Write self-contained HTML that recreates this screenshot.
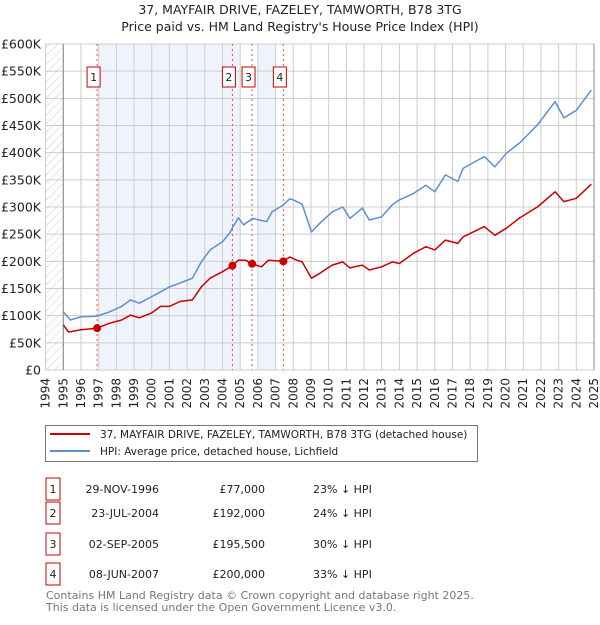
<!DOCTYPE html>
<html><head><meta charset="utf-8"><style>
body{margin:0;background:#fff;font-family:"Liberation Sans","DejaVu Sans",sans-serif;}
svg text{font-family:"DejaVu Sans","Liberation Sans",sans-serif;}
</style></head><body>
<svg id="c" width="600" height="620" xmlns="http://www.w3.org/2000/svg">
<defs><pattern id="hatch" width="6" height="6" patternUnits="userSpaceOnUse" patternTransform="rotate(45)"><line x1="0" y1="0" x2="0" y2="6" stroke="#ccc" stroke-width="1"/></pattern></defs>
<text x="300" y="14" text-anchor="middle" font-size="12.5" fill="#222">37, MAYFAIR DRIVE, FAZELEY, TAMWORTH, B78 3TG</text>
<text x="300" y="31" text-anchor="middle" font-size="12.5" fill="#222">Price paid vs. HM Land Registry's House Price Index (HPI)</text>
<g id="plot"></g>
<g>
<rect x="45.5" y="425.5" width="432" height="36" fill="#fff" stroke="#777"/>
<line x1="50" y1="434" x2="90" y2="434" stroke="#cc0000" stroke-width="2"/>
<text x="100" y="438" font-size="10.5" fill="#222">37, MAYFAIR DRIVE, FAZELEY, TAMWORTH, B78 3TG (detached house)</text>
<line x1="50" y1="451" x2="90" y2="451" stroke="#5b8fd4" stroke-width="2"/>
<text x="100" y="455" font-size="10.5" fill="#222">HPI: Average price, detached house, Lichfield</text>
</g>
<g id="table" font-size="11" fill="#222"></g>
<text x="46" y="599" font-size="11" fill="#777">Contains HM Land Registry data © Crown copyright and database right 2025.</text>
<text x="46" y="611" font-size="11" fill="#777">This data is licensed under the Open Government Licence v3.0.</text>
</svg>
<script>
const hpiYears=[1995.0,1995.4,1996.0,1996.9,1997.6,1998.3,1998.8,1999.3,2000.0,2000.5,2001.0,2001.6,2002.3,2002.8,2003.3,2004.0,2004.4,2004.6,2004.9,2005.2,2005.7,2006.5,2006.8,2007.4,2007.8,2008.0,2008.5,2009.03,2009.5,2010.2,2010.8,2011.2,2011.9,2012.3,2013.0,2013.6,2014.0,2014.8,2015.5,2016.0,2016.6,2017.3,2017.6,2018.8,2019.4,2020.05,2020.8,2021.8,2022.8,2023.3,2024.0,2024.85];
const hpiValues=[107,92,98,99,107,117,129,123,135,144,153,160,169,199,221,236,252,264,280,267,279,273,291,303,315,313,305,254,270,291,300,279,298,276,282,304,313,325,340,328,359,347,371,393,374,399,418,451,494,464,478,515];
const ppYears=[1995.0,1995.3,1996.0,1996.9,1997.6,1998.3,1998.8,1999.3,2000.0,2000.5,2001.0,2001.6,2002.3,2002.8,2003.3,2004.0,2004.56,2004.9,2005.3,2005.67,2006.2,2006.6,2007.44,2007.8,2008.2,2008.5,2009.03,2009.5,2010.2,2010.8,2011.2,2011.9,2012.3,2013.0,2013.6,2014.0,2014.8,2015.5,2016.0,2016.6,2017.3,2017.6,2018.8,2019.4,2020.05,2020.8,2021.8,2022.8,2023.3,2024.0,2024.85];
const ppValues=[83,70,74,77,86,92,101,96,105,117,117,126,129,153,169,181,192,202,202,195.5,190,202,200,208,202,199,169,178,193,199,188,193,184,190,199,196,215,227,221,239,233,245,264,248,261,280,300,328,310,316,342];
const saleLabels=["1","2","3","4"];
const saleYears=[1996.91,2004.56,2005.67,2007.44];
const saleValues=[77,192,195.5,200];
const saleDates=["29-NOV-1996","23-JUL-2004","02-SEP-2005","08-JUN-2007"];
const salePrices=["£77,000","£192,000","£195,500","£200,000"];
const saleDiffs=["23% ↓ HPI","24% ↓ HPI","30% ↓ HPI","33% ↓ HPI"];
const yTicks=[0,50,100,150,200,250,300,350,400,450,500,550,600];
const yTickLabels=["£0","£50K","£100K","£150K","£200K","£250K","£300K","£350K","£400K","£450K","£500K","£550K","£600K"];
const xStart=1994,xEnd=2025;

const NS="http://www.w3.org/2000/svg";
const X0=45.6,X1=594,Y0=370,Y1=44;
const xs=y=>X0+(y-xStart)/(xEnd-xStart)*(X1-X0);
const ys=v=>Y0-v/600*(Y0-Y1);
const plot=document.getElementById('plot');
function mk(tag,attrs,parent){const e=document.createElementNS(NS,tag);for(const k in attrs)e.setAttribute(k,attrs[k]);(parent||plot).appendChild(e);return e;}

let r=mk('rect',{x:X0,y:Y1,width:X1-X0,height:Y0-Y1,fill:'#fff'});


[[0,1],[2,3]].forEach(p=>{
 const a=Math.round(saleYears[p[0]]),b=Math.round(saleYears[p[1]]);
 let s=mk('rect',{x:xs(a),y:Y1,width:xs(b)-xs(a),height:Y0-Y1,fill:'#eef3fc'});
 
 
});
let h=mk('rect',{x:X0,y:Y1,width:xs(1995)-X0,height:Y0-Y1,fill:'url(#hatch)'});


for(let yr=xStart;yr<=xEnd;yr++){
 let g=mk('line',{x1:xs(yr),x2:xs(yr),y1:Y1,y2:Y0,stroke:'#ccc','stroke-width':1});
 
 
 let t=mk('text',{x:0,y:0,'font-size':12,fill:'#222','text-anchor':'end',transform:`translate(${xs(yr)+4},${Y0+8}) rotate(-90)`});
 t.textContent=yr;
 
 
}
yTicks.forEach((v,i)=>{
 let g=mk('line',{x1:X0,x2:X1,y1:ys(v),y2:ys(v),stroke:'#ccc','stroke-width':1});
 
 
 let t=mk('text',{x:41,y:ys(v)+4.5,'font-size':12.5,fill:'#222','text-anchor':'end'});
 t.textContent=yTickLabels[i];
 
 
});
let ax=mk('line',{x1:xs(1995),x2:xs(1995),y1:Y1,y2:Y0,stroke:'#888','stroke-width':1});


let ax2=mk('line',{x1:X1,x2:X1,y1:Y1,y2:Y0,stroke:'#888','stroke-width':1});


saleYears.forEach((yr,i)=>{
 let l=mk('line',{x1:xs(yr),x2:xs(yr),y1:Y1,y2:Y0,stroke:'#e05050','stroke-width':1,'stroke-dasharray':'2,3'});
 
 
 let b=mk('rect',{x:xs(yr)-10,y:67,width:13,height:20,fill:'#fff',stroke:'#cc0000'});
 
 
 let t=mk('text',{x:xs(yr)-3.5,y:81,'font-size':11,fill:'#222','text-anchor':'middle'});
 t.textContent=saleLabels[i];
 
 
});
function line(xa,va,color,name){
 let d=xa.map((x,i)=>(i?'L':'M')+xs(x).toFixed(1)+','+ys(va[i]).toFixed(1)).join(' ');
 let p=mk('path',{d:d,fill:'none',stroke:color,'stroke-width':1.5,'stroke-linejoin':'round'});
 
 
}
line(hpiYears,hpiValues,'#5b8fd4','hpi-line');
line(ppYears,ppValues,'#cc0000','property-line');
saleYears.forEach((yr,i)=>{
 let c=mk('circle',{cx:xs(yr),cy:ys(saleValues[i]),r:4,fill:'#cc0000'});
 
 
});
const tb=document.getElementById('table');
const rowY=[489,513,544,574];
saleLabels.forEach((lab,i)=>{
 const y=rowY[i];
 let b=mk('rect',{x:46,y:y-11,width:14,height:22,fill:'#fff',stroke:'#cc0000'},tb);
 
 
 let t=mk('text',{x:53,y:y+4,'text-anchor':'middle'},tb);t.textContent=lab;
 
 
 let d=mk('text',{x:159,y:y+4,'text-anchor':'end'},tb);d.textContent=saleDates[i];
 
 
 let p=mk('text',{x:265,y:y+4,'text-anchor':'end'},tb);p.textContent=salePrices[i];
 
 
 let q=mk('text',{x:313,y:y+4},tb);q.textContent=saleDiffs[i];
 
 
});
</script>
</body></html>
